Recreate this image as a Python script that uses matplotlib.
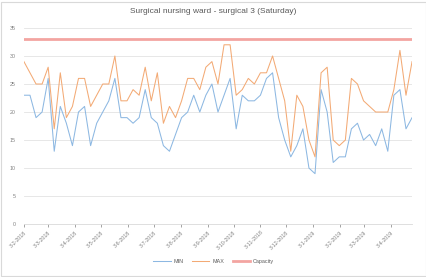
import matplotlib
matplotlib.use("Agg")
import matplotlib.pyplot as plt
import pandas as pd

# weekly Saturdays, first one on 3 Feb 2018
start_date = "2018-02-03"

min_vals = [23, 23, 19, 20, 26, 13, 21, 18, 14, 20, 21, 14, 18, 20, 22, 26,
            19, 19, 18, 19, 24, 19, 18, 14, 13, 16, 19, 20, 23, 20, 23, 25,
            20, 23, 26, 17, 23, 22, 22, 23, 26, 27, 19, 15, 12, 14, 17, 10,
            9, 24, 20, 11, 12, 12, 17, 18, 15, 16, 14, 17, 13, 23, 24, 17, 19]

max_vals = [29, 27, 25, 25, 28, 17, 27, 19, 21, 26, 26, 21, 23, 25, 25, 30,
            22, 22, 24, 23, 28, 22, 27, 18, 21, 19, 22, 26, 26, 24, 28, 29,
            25, 32, 32, 23, 24, 26, 25, 27, 27, 30, 26, 22, 13, 23, 21, 15,
            12, 27, 28, 15, 14, 15, 26, 25, 22, 21, 20, 20, 20, 24, 31, 23, 29]

capacity = 33

title = "Surgical nursing ward - surgical 3 (Saturday)"
series_names = ["MIN", "MAX", "Capacity"]
y_ticks = [0, 5, 10, 15, 20, 25, 30, 35]

dates = pd.date_range(start_date, periods=len(min_vals), freq="7D")
tick_dates = pd.date_range(start_date, periods=15, freq=pd.DateOffset(months=1))
tick_labels = [f"{d.day}-{d.month}-{d.year}" for d in tick_dates]

plt.rcParams['font.family'] = ['Liberation Sans', 'DejaVu Sans']

fig = plt.figure(figsize=(4.27, 2.77), dpi=100)
ax = fig.add_axes([0.056, 0.191, 0.909, 0.708])

ax.plot(dates, min_vals, color="#8DB8E2", lw=0.75, label=series_names[0])
ax.plot(dates, max_vals, color="#F3AA75", lw=0.75, label=series_names[1])
ax.plot(dates, [capacity] * len(dates), color="#F3A5A1", lw=2.0, label=series_names[2])

ax.set_xlim(dates[0], dates[-1])
ax.set_ylim(0, 35)
ax.set_yticks(y_ticks)
ax.set_xticks(tick_dates)
ax.set_xticklabels(tick_labels, rotation=45, ha="right", rotation_mode="anchor")
ax.tick_params(axis="x", labelsize=3.8, colors="#7F7F7F", length=2, width=0.5, pad=2)
ax.tick_params(axis="y", labelsize=3.8, colors="#7F7F7F", length=0, pad=6)
ax.grid(axis="y", color="#E3E3E3", lw=0.6)
ax.set_axisbelow(True)
for side in ["top", "right", "left"]:
    ax.spines[side].set_visible(False)
ax.spines["bottom"].set_color("#D9D9D9")
ax.spines["bottom"].set_linewidth(0.6)

fig.suptitle(title, x=0.5, y=0.97, fontsize=6.0, color="#595959")

leg = fig.legend(loc="center", bbox_to_anchor=(0.5, 0.055), ncol=3, frameon=False,
                 fontsize=3.9, handlelength=3.2, columnspacing=1.6, handletextpad=0.5)
for t in leg.get_texts():
    t.set_color("#595959")

# light border round the chart area
fig.patches.append(plt.Rectangle((0.003, 0.004), 0.994, 0.99, transform=fig.transFigure,
                                 fill=False, edgecolor="#D9D9D9", lw=0.8))

fig.savefig("out.png", dpi=100)
